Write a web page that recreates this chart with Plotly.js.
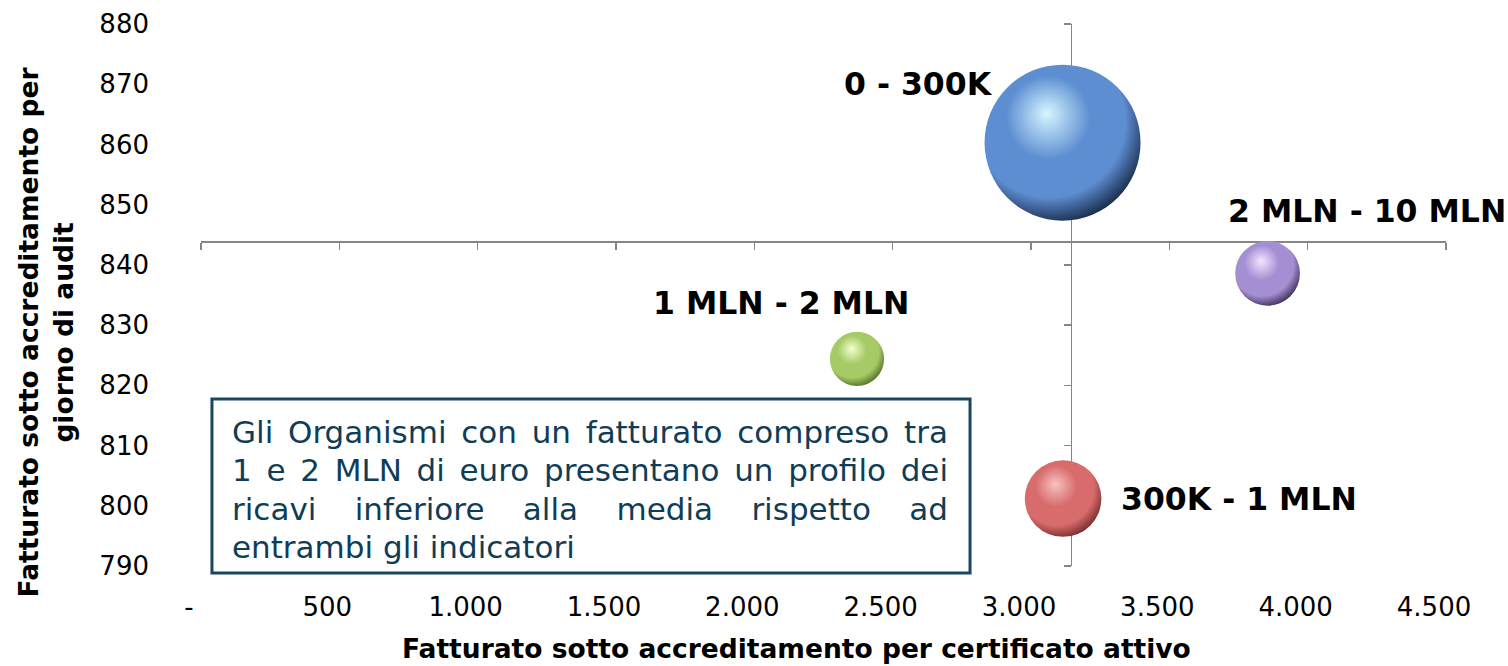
<!DOCTYPE html>
<html>
<head>
<meta charset="utf-8">
<script src="https://cdn.plot.ly/plotly-3.0.1.min.js"></script>
<style>
  html, body { margin: 0; padding: 0; background: #ffffff; }
  #chart { width: 1508px; height: 666px; }
</style>
</head>
<body>
<div id="chart"></div>
<script>
// ---------------- data ----------------
var categories = ['0 - 300K', '300K - 1 MLN', '1 MLN - 2 MLN', '2 MLN - 10 MLN'];
var xValues = [3114, 3116, 2371, 3855];          // Fatturato per certificato attivo
var yValues = [860.3, 801.2, 824.4, 838.6];      // Fatturato per giorno di audit
var bubbleSizes = [58, 14, 7, 10];
var xTickValues = [0, 500, 1000, 1500, 2000, 2500, 3000, 3500, 4000, 4500];
var xTickLabels = ['-', '500', '1.000', '1.500', '2.000', '2.500', '3.000', '3.500', '4.000', '4.500'];
var yTickValues = [790, 800, 810, 820, 830, 840, 850, 860, 870, 880];
var xCross = 3143;     // where the vertical axis crosses
var yCross = 843.9;    // where the horizontal axis crosses
var xTitle = 'Fatturato sotto accreditamento per certificato attivo';
var yTitleLines = ['Fatturato sotto accreditamento per', 'giorno di audit'];
var noteLines = [
  'Gli Organismi con un fatturato compreso tra',
  '1 e 2 MLN di euro presentano un profilo dei',
  'ricavi inferiore alla media rispetto ad',
  'entrambi gli indicatori'
];

// ---------------- style ----------------
var FONT = 'DejaVu Sans, Verdana, sans-serif';
var AXIS_GREY = '#868686';
var NOTE_COLOR = '#0f3d57';
var sphereHi   = ['#d6f7ff', '#f7c2c2', '#f2ffcc', '#f3e6ff'];
var sphereMid  = ['#5e8ed2', '#d86c6c', '#a5ca66', '#a48fd3'];
var sphereDark = ['#1b3050', '#7c3030', '#56762b', '#45345f'];
var labelAnchor = ['right', 'left', 'right', 'left'];
var labelShiftX = [-69, 57, 53, -41];
var labelShiftY = [59, 0, 56, 62];
var MAX_DIAM = 156;

var xRange = [xTickValues[0], xTickValues[xTickValues.length - 1]];
var yRange = [yTickValues[0], yTickValues[yTickValues.length - 1]];
var maxSize = Math.max.apply(null, bubbleSizes);
var sizeref = 2 * maxSize / (MAX_DIAM * MAX_DIAM);

var traces = categories.map(function (c, i) {
  return {
    type: 'scatter',
    mode: 'markers',
    name: c,
    uid: 'bubble' + i,
    x: [xValues[i]],
    y: [yValues[i]],
    marker: {
      size: [bubbleSizes[i]],
      sizemode: 'area',
      sizeref: sizeref,
      opacity: 1,
      color: sphereDark[i],
      gradient: { type: 'radial', color: sphereHi[i] },
      line: { width: 0 }
    },
    hoverinfo: 'name',
    cliponaxis: false
  };
});
// empty trace that registers the crossing axes (x2 / y2)
traces.unshift({
  type: 'scatter', mode: 'markers', x: [], y: [],
  xaxis: 'x2', yaxis: 'y2', hoverinfo: 'skip', showlegend: false
});

var annotations = categories.map(function (c, i) {
  return {
    xref: 'x', yref: 'y', x: xValues[i], y: yValues[i],
    text: '<b>' + c + '</b>',
    showarrow: false,
    xanchor: labelAnchor[i], yanchor: 'middle',
    xshift: labelShiftX[i], yshift: labelShiftY[i],
    font: { family: FONT, size: 31.5, color: '#000000' },
    borderpad: 0
  };
});

var NOTE_INDEX = annotations.length;
annotations.push({
  xref: 'paper', yref: 'paper', x: 0.0249, y: 0.281,
  xanchor: 'left', yanchor: 'top', align: 'left',
  text: noteLines.join('<br>'),
  showarrow: false,
  font: { family: FONT, size: 31, color: NOTE_COLOR },
  borderpad: 0, borderwidth: 0
});
annotations.push({
  xref: 'paper', yref: 'paper', x: 0.4787, y: -0.1524,
  xanchor: 'center', yanchor: 'middle',
  text: '<b>' + xTitle + '</b>',
  showarrow: false,
  font: { family: FONT, size: 26.5, color: '#000000' },
  borderpad: 0
});
annotations.push({
  xref: 'paper', yref: 'paper', x: -0.125, y: 0.4317,
  xanchor: 'center', yanchor: 'middle', textangle: -90,
  text: '<b>' + yTitleLines.join('<br>') + '</b>',
  showarrow: false,
  font: { family: FONT, size: 26.5, color: '#000000' }
});

var layout = {
  width: 1508, height: 666,
  margin: { l: 201, r: 62, t: 24, b: 100, pad: 0 },
  paper_bgcolor: '#ffffff', plot_bgcolor: 'rgba(0,0,0,0)',
  showlegend: false,
  font: { family: FONT, color: '#000000' },
  xaxis: {
    range: xRange, showgrid: false, zeroline: false, showline: false, ticks: '',
    tickmode: 'array', tickvals: xTickValues, ticktext: xTickLabels,
    tickfont: { family: FONT, size: 26, color: '#000000' },
    ticklabelshift: -12, ticklabelstandoff: 23, fixedrange: true
  },
  yaxis: {
    range: yRange, showgrid: false, zeroline: false, showline: false, ticks: '',
    tickmode: 'array', tickvals: yTickValues,
    tickfont: { family: FONT, size: 26, color: '#000000' },
    ticklabelstandoff: 51, fixedrange: true
  },
  xaxis2: {
    overlaying: 'x', anchor: 'free', position: (yCross - yRange[0]) / (yRange[1] - yRange[0]),
    range: xRange, tickmode: 'array', tickvals: xTickValues, showticklabels: false,
    ticks: 'outside', ticklen: 7, tickwidth: 1.5, tickcolor: AXIS_GREY,
    showline: true, linecolor: AXIS_GREY, linewidth: 1.5,
    showgrid: false, zeroline: false, layer: 'below traces', side: 'bottom', fixedrange: true
  },
  yaxis2: {
    overlaying: 'y', anchor: 'free', position: (xCross - xRange[0]) / (xRange[1] - xRange[0]),
    range: yRange, tickmode: 'array', tickvals: yTickValues, showticklabels: false,
    ticks: 'outside', ticklen: 7, tickwidth: 1.5, tickcolor: AXIS_GREY,
    showline: true, linecolor: AXIS_GREY, linewidth: 1.5,
    showgrid: false, zeroline: false, layer: 'below traces', side: 'left', fixedrange: true
  },
  shapes: [{
    type: 'rect', xref: 'paper', yref: 'paper',
    x0: 0.0088, x1: 0.6177, y0: -0.0129, y1: 0.3081,
    line: { color: '#1a4660', width: 3 }, fillcolor: '#ffffff', layer: 'above'
  }],
  annotations: annotations
};

Plotly.newPlot('chart', traces, layout, { displayModeBar: false, staticPlot: true }).then(function (gd) {
  var SVGNS = 'http://www.w3.org/2000/svg';
  // sphere-like shading: light spot upper-left, darker rim lower-right
  categories.forEach(function (c, i) {
    var g = gd.querySelector('radialGradient[id$="-bubble' + i + '"]');
    if (!g) return;
    g.setAttribute('cx', '0.42');
    g.setAttribute('cy', '0.38');
    g.setAttribute('r', '0.64');
    g.setAttribute('fx', '0.40');
    g.setAttribute('fy', '0.31');
    while (g.firstChild) g.removeChild(g.firstChild);
    [[0, sphereHi[i]], [0.42, sphereMid[i]], [0.76, sphereMid[i]], [1, sphereDark[i]]].forEach(function (s) {
      var st = document.createElementNS(SVGNS, 'stop');
      st.setAttribute('offset', (s[0] * 100) + '%');
      st.setAttribute('stop-color', s[1]);
      g.appendChild(st);
    });
  });
  // justified note text and Excel-like line spacing
  var ann = gd.querySelector('.annotation[data-index="' + NOTE_INDEX + '"]');
  if (ann) {
    var lines = ann.querySelectorAll('tspan.line');
    var target = 716;
    lines.forEach(function (t, k) {
      t.setAttribute('dy', (k * 1.235) + 'em');
      if (k < lines.length - 1) {
        var w = t.getComputedTextLength();
        var spaces = (t.textContent.match(/ /g) || []).length;
        if (spaces > 0 && w < target) {
          t.setAttribute('word-spacing', ((target - w) / spaces).toFixed(2));
        }
      }
    });
  }
});
</script>
</body>
</html>
